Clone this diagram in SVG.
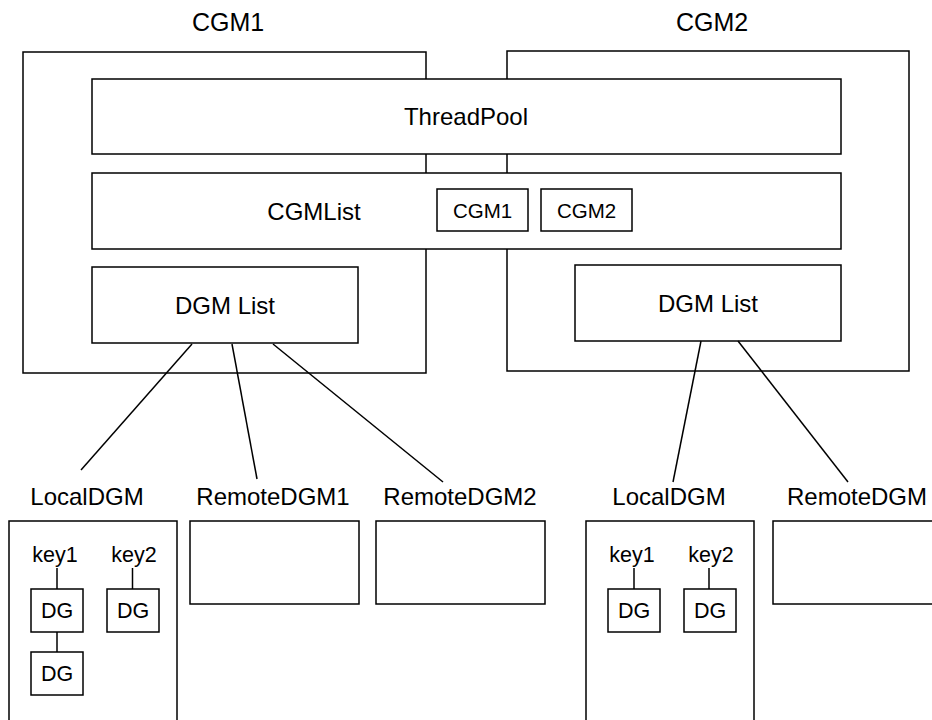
<svg xmlns="http://www.w3.org/2000/svg" width="932" height="720" viewBox="0 0 932 720">
<style>
.box{fill:#fff;stroke:#000;stroke-width:1.5}
.ln{stroke:#000;stroke-width:1.5;fill:none}
text{font-family:"Liberation Sans",Arial,sans-serif;fill:#000;text-anchor:middle}
.top{font-size:25px}
.big{font-size:24px}
.mid{font-size:20.5px}
.sm{font-size:21.5px}
</style>
<rect width="932" height="720" fill="#fff"/>
<g id="cgm1">
<rect class="box" x="23" y="52" width="403" height="321"/>
<text class="top" x="228" y="31">CGM1</text>
</g>
<g id="cgm2">
<rect class="box" x="507" y="51" width="402" height="320"/>
<text class="top" x="712" y="31">CGM2</text>
</g>
<g id="threadpool">
<rect class="box" x="92" y="79" width="749" height="75"/>
<text class="big" x="466" y="125">ThreadPool</text>
</g>
<g id="cgmlist">
<rect class="box" x="92" y="173" width="749" height="76"/>
<text class="big" x="314" y="220">CGMList</text>
</g>
<g id="cgmlist-cgm1">
<rect class="box" x="437" y="189" width="91" height="42"/>
<text class="mid" x="482.5" y="218">CGM1</text>
</g>
<g id="cgmlist-cgm2">
<rect class="box" x="541" y="189" width="91" height="42"/>
<text class="mid" x="586.5" y="218">CGM2</text>
</g>
<g id="dgmlist1">
<rect class="box" x="92" y="267" width="266" height="76"/>
<text class="big" x="225" y="314">DGM List</text>
</g>
<g id="dgmlist2">
<rect class="box" x="575" y="265" width="266" height="76"/>
<text class="big" x="708" y="312">DGM List</text>
</g>
<g id="localdgm1">
<rect class="box" x="9" y="521" width="168" height="215"/>
<text class="big" x="87" y="505">LocalDGM</text>
</g>
<g id="remotedgm1">
<rect class="box" x="190" y="521" width="169" height="83"/>
<text class="big" x="273" y="505">RemoteDGM1</text>
</g>
<g id="remotedgm2">
<rect class="box" x="376" y="521" width="169" height="83"/>
<text class="big" x="460" y="505">RemoteDGM2</text>
</g>
<g id="localdgm2">
<rect class="box" x="586" y="521" width="168" height="215"/>
<text class="big" x="669" y="505">LocalDGM</text>
</g>
<g id="remotedgm3">
<rect class="box" x="773" y="521" width="180" height="83"/>
<text class="big" x="857" y="505">RemoteDGM</text>
</g>
<g id="key1-l"><text class="sm" x="55" y="562">key1</text></g>
<g id="key2-l"><text class="sm" x="134" y="562">key2</text></g>
<g id="dg1-l"><rect class="box" x="31" y="589" width="52" height="43"/><text class="sm" x="57" y="618">DG</text></g>
<g id="dg2-l"><rect class="box" x="31" y="652" width="52" height="43"/><text class="sm" x="57" y="681">DG</text></g>
<g id="dg3-l"><rect class="box" x="107" y="589" width="52" height="43"/><text class="sm" x="133" y="618">DG</text></g>
<g id="key1-r"><text class="sm" x="632" y="562">key1</text></g>
<g id="key2-r"><text class="sm" x="711" y="562">key2</text></g>
<g id="dg1-r"><rect class="box" x="608" y="589" width="52" height="43"/><text class="sm" x="634" y="618">DG</text></g>
<g id="dg2-r"><rect class="box" x="684" y="589" width="52" height="43"/><text class="sm" x="710" y="618">DG</text></g>
<g id="connectors">
<line class="ln" x1="192" y1="344" x2="81" y2="470"/>
<line class="ln" x1="232" y1="344" x2="257" y2="479"/>
<line class="ln" x1="273" y1="344" x2="443" y2="482"/>
<line class="ln" x1="701" y1="341" x2="673" y2="482"/>
<line class="ln" x1="738" y1="341" x2="848" y2="482"/>
<line class="ln" x1="57" y1="568" x2="57" y2="589"/>
<line class="ln" x1="57" y1="632" x2="57" y2="652"/>
<line class="ln" x1="132.5" y1="568" x2="132.5" y2="589"/>
<line class="ln" x1="634" y1="568" x2="634" y2="589"/>
<line class="ln" x1="709" y1="568" x2="709" y2="589"/>
</g>
</svg>
